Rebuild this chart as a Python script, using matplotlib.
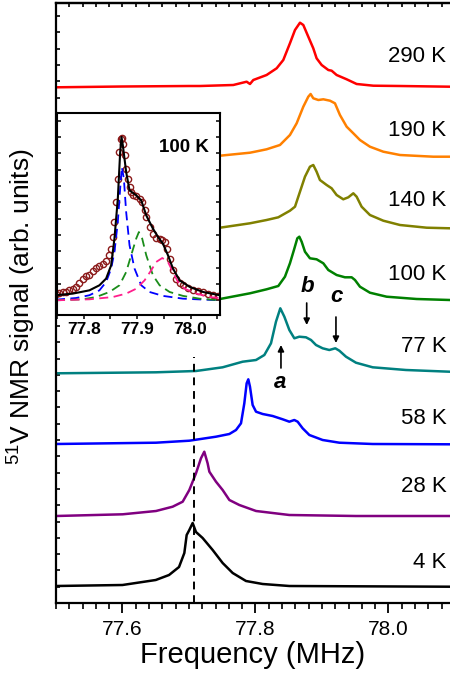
import matplotlib
matplotlib.use('Agg')
import matplotlib.pyplot as plt
from matplotlib.ticker import MultipleLocator

plt.rcParams['font.family'] = ['Liberation Sans', 'DejaVu Sans']
plt.rcParams['mathtext.fontset'] = 'custom'
plt.rcParams['mathtext.rm'] = 'Liberation Sans'
plt.rcParams['mathtext.it'] = 'Liberation Sans:italic'

# spectra: frequency (MHz), signal (arb. units, stacked)
f_4 = [77.5, 77.6, 77.65, 77.67, 77.685, 77.693, 77.6965, 77.7005, 77.7055, 77.7105, 77.7205,
       77.7356, 77.7506, 77.7657, 77.7857, 77.8108, 77.851, 77.951, 78.0915]
s_4 = [17, 18, 23, 28, 36, 50, 68, 73, 80, 71, 65, 53, 40, 30, 22, 19, 17, 16.7, 16.3]

f_28 = [77.5, 77.6003, 77.6504, 77.6754, 77.6905, 77.7005, 77.7105, 77.718, 77.723, 77.728,
        77.7306, 77.7406, 77.7506, 77.7607, 77.7757, 77.8008, 77.8509, 77.9511, 78.0915]
s_28 = [87, 88.7, 92, 96.3, 101.3, 113, 129.7, 144.7, 151.3, 139.7, 131.3, 121.3, 113, 103,
        98, 92, 88, 87, 87]

f_58 = [77.5, 77.6504, 77.7005, 77.7406, 77.7607, 77.7707, 77.7782, 77.7832, 77.7867, 77.7892,
        77.7917, 77.7957, 77.8008, 77.8108, 77.8258, 77.8409, 77.8509, 77.8584, 77.8634,
        77.8709, 77.881, 77.901, 77.9261, 77.9762, 78.0915]
s_58 = [159, 160.3, 162.3, 166.3, 169, 173, 179.7, 199.7, 219.7, 223.7, 216.3, 198, 191.3,
        189, 187, 183.7, 181.3, 183, 181.3, 174.7, 168, 163, 160.3, 159, 158.7]

f_77 = [77.5, 77.6504, 77.7105, 77.7506, 77.7807, 77.8008, 77.8133, 77.8233, 77.8308, 77.8373,
        77.8434, 77.8509, 77.8584, 77.8659, 77.8759, 77.8835, 77.891, 77.901, 77.911, 77.92,
        77.9261, 77.9361, 77.9511, 77.9762, 78.0263, 78.0915]
s_77 = [229.7, 230.7, 232, 235.7, 241.3, 243, 248, 259.7, 281.3, 294.7, 286.3, 273, 264.7,
        266.3, 265.7, 263, 258, 254.7, 253, 254.7, 252.3, 246.3, 240.3, 235.7, 233, 231.3]

f_100 = [77.5, 77.65, 77.7466, 77.7917, 77.8167, 77.8343, 77.8443, 77.8518, 77.8578, 77.8629,
         77.8659, 77.8694, 77.8744, 77.8819, 77.8919, 77.902, 77.9095, 77.922, 77.9345,
         77.9446, 77.9496, 77.9571, 77.9721, 77.9972, 78.0423, 78.0924]
s_100 = [302, 303, 304, 309.7, 313.7, 317, 326.3, 339.7, 353, 364.7, 366.3, 361.3, 351.3,
         344.7, 343.7, 339.7, 333, 328, 325.7, 325.7, 323, 316.3, 310.3, 306.3, 304, 303]

f_140 = [77.5, 77.65, 77.7466, 77.7917, 77.8167, 77.8343, 77.8518, 77.8594, 77.8669, 77.8744,
         77.8819, 77.8869, 77.8919, 77.8969, 77.907, 77.9145, 77.922, 77.932, 77.9396,
         77.9471, 77.9521, 77.9596, 77.9721, 77.9922, 78.0173, 78.0574, 78.0924]
s_140 = [371, 373, 375.3, 379.7, 383, 385.7, 392.3, 396.3, 411.3, 426.3, 436.3, 438, 431.3,
         423, 418, 414.7, 408, 403.7, 405.7, 409.7, 406.3, 396.3, 388, 382.3, 378, 375.3, 374.7]

f_190 = [77.5, 77.65, 77.7466, 77.7917, 77.7992, 77.8167, 77.8368, 77.8518, 77.8619, 77.8719,
         77.8794, 77.8829, 77.8869, 77.8945, 77.902, 77.912, 77.9195, 77.927, 77.9371,
         77.9471, 77.9571, 77.9721, 77.9922, 78.0173, 78.0674, 78.0924]
s_190 = [444, 446, 447.3, 450.3, 451.3, 453.7, 458, 468, 479.7, 496.3, 506.3, 509, 504.7, 503,
         503.7, 502.3, 499.7, 488, 476.3, 469.7, 463, 456.3, 451.3, 448, 446.3, 446.3]

f_290 = [77.5, 77.6, 77.7, 77.7165, 77.7666, 77.7867, 77.7917, 77.7967, 77.8167, 77.8318,
         77.8418, 77.8518, 77.8594, 77.8669, 77.8719, 77.8794, 77.8869, 77.8919, 77.8995,
         77.9095, 77.9145, 77.922, 77.9371, 77.9521, 77.9772, 78.0173, 78.0924]
s_290 = [515.7, 516.5, 517, 517, 518, 521.3, 519, 523, 528, 534.7, 543, 559.7, 573, 580.3, 578,
         566.3, 554.7, 544.7, 538, 533, 532.3, 528, 523.7, 519, 517.3, 517, 516.3]

temps = ['4 K', '28 K', '58 K', '77 K', '100 K', '140 K', '190 K', '290 K']
colors = ['black', '#800080', '#0000ff', '#008080', '#008000', '#808000', '#ff8000', '#ff0000']
label_y = [41, 116, 185, 256, 328, 403, 473, 546]

# inset: 100 K spectrum and its three-line fit (normalised)
fi_data = [77.7481, 77.7544, 77.7606, 77.7669, 77.7731, 77.7794, 77.7856, 77.7919, 77.7981,
           77.8044, 77.8106, 77.8169, 77.8231, 77.8294, 77.8357, 77.8419, 77.8482, 77.8513,
           77.8544, 77.8575, 77.8607, 77.8638, 77.8669, 77.8694, 77.8719, 77.8744, 77.8769,
           77.8794, 77.8826, 77.8857, 77.8888, 77.8919, 77.8982, 77.9044, 77.9094, 77.9138,
           77.917, 77.9232, 77.9295, 77.9357, 77.942, 77.947, 77.9514, 77.9557, 77.9607,
           77.967, 77.9732, 77.9795, 77.9857, 77.9951, 78.0045, 78.0139, 78.0233, 78.0327,
           78.042, 78.0514]
si_data = [0.041, 0.045, 0.049, 0.051, 0.061, 0.071, 0.082, 0.108, 0.133, 0.147, 0.157, 0.178,
           0.198, 0.210, 0.222, 0.241, 0.276, 0.316, 0.388, 0.480, 0.602, 0.745, 0.908, 0.990,
           0.994, 0.959, 0.888, 0.806, 0.745, 0.694, 0.663, 0.647, 0.639, 0.622, 0.602, 0.551,
           0.510, 0.449, 0.408, 0.382, 0.373, 0.371, 0.357, 0.316, 0.255, 0.184, 0.133, 0.108,
           0.092, 0.076, 0.065, 0.057, 0.049, 0.039, 0.031, 0.024]

fi_fit = [77.7481, 77.7794, 77.8106, 77.8294, 77.8419, 77.8513, 77.8575, 77.8638, 77.8682,
          77.8707, 77.8732, 77.8794, 77.8857, 77.8982, 77.9076, 77.917, 77.9295, 77.9389,
          77.9482, 77.9576, 77.967, 77.9795, 77.9983, 78.0233, 78.0545]
si_fit = [0.031, 0.041, 0.061, 0.092, 0.133, 0.214, 0.378, 0.622, 0.908, 1.0, 0.949, 0.786,
          0.673, 0.643, 0.612, 0.520, 0.439, 0.388, 0.347, 0.276, 0.194, 0.122, 0.082, 0.051,
          0.031]

fi_a = [77.7481, 77.7856, 77.8106, 77.8294, 77.8419, 77.8513, 77.8575, 77.8638, 77.8682,
        77.8713, 77.8751, 77.8794, 77.8857, 77.8951, 77.9076, 77.9232, 77.9482, 77.9857, 78.0545]
si_a = [0.004, 0.014, 0.031, 0.061, 0.112, 0.194, 0.296, 0.480, 0.684, 0.816, 0.745, 0.541,
        0.337, 0.194, 0.092, 0.051, 0.027, 0.010, 0.0]

fi_b = [77.7481, 77.7981, 77.8231, 77.8482, 77.8669, 77.8794, 77.8888, 77.8982, 77.9032,
        77.9094, 77.917, 77.9295, 77.942, 77.9607, 77.9857, 78.017, 78.0545]
si_b = [0.0, 0.006, 0.020, 0.051, 0.092, 0.173, 0.276, 0.378, 0.418, 0.378, 0.276, 0.153,
        0.092, 0.051, 0.027, 0.010, 0.0]

fi_c = [77.7481, 77.8106, 77.8544, 77.8794, 77.8982, 77.9138, 77.9263, 77.9357, 77.947,
        77.9576, 77.967, 77.9764, 77.9889, 78.0108, 78.0358, 78.0545]
si_c = [0.0, 0.006, 0.020, 0.041, 0.071, 0.122, 0.184, 0.235, 0.259, 0.235, 0.173, 0.112,
        0.071, 0.041, 0.020, 0.014]

fig = plt.figure(figsize=(4.5, 6.81), dpi=100)
ax = fig.add_axes([56 / 450, 1 - 603 / 681, 394 / 450, 600 / 681])

traces = [(f_4, s_4), (f_28, s_28), (f_58, s_58), (f_77, s_77),
          (f_100, s_100), (f_140, s_140), (f_190, s_190), (f_290, s_290)]
for (fx, sy), c, t, ly in zip(traces, colors, temps, label_y):
    ax.plot(fx, sy, color=c, lw=1.8, solid_joinstyle='round')
    ax.text(78.087, ly, t, ha='right', va='center', fontsize=16)

ax.plot([77.7075, 77.7075], [0, 246], color='black', ls=(0, (4, 3)), lw=1.4)

# peak markers a, b, c on the 77 K line
arr = dict(arrowstyle='-|>', color='black', lw=1.2, mutation_scale=9, shrinkA=0, shrinkB=0)
ax.annotate('', xy=(77.8383, 258), xytext=(77.8383, 235), arrowprops=arr)
ax.annotate('', xy=(77.877, 278), xytext=(77.877, 300), arrowprops=arr)
ax.annotate('', xy=(77.921, 260), xytext=(77.921, 286), arrowprops=arr)
ax.text(77.8368, 220, 'a', ha='center', va='center', fontsize=16, style='italic', weight='bold')
ax.text(77.8785, 316, 'b', ha='center', va='center', fontsize=16, style='italic', weight='bold')
ax.text(77.922, 306, 'c', ha='center', va='center', fontsize=16, style='italic', weight='bold')

ax.set_xlim(77.5, 78.0925)
ax.set_ylim(0, 600)
ax.xaxis.set_major_locator(MultipleLocator(0.2))
ax.xaxis.set_minor_locator(MultipleLocator(0.02))
ax.yaxis.set_major_locator(MultipleLocator(16.3))
ax.set_yticklabels([])
ax.tick_params(axis='x', which='major', direction='out', length=7, width=1.3, labelsize=15, pad=5)
ax.tick_params(axis='x', which='minor', direction='out', length=4, width=1.2)
ax.tick_params(axis='y', which='major', direction='in', length=3, width=1.2, left=True, right=False)
ax.spines['right'].set_visible(False)
for s in ['left', 'top', 'bottom']:
    ax.spines[s].set_linewidth(1.6)
top = ax.secondary_xaxis('top')
top.xaxis.set_major_locator(MultipleLocator(0.2))
top.xaxis.set_minor_locator(MultipleLocator(0.02))
top.tick_params(which='both', direction='in', length=3, width=1.2, labeltop=False)
top.spines['top'].set_linewidth(1.6)

ax.set_xlabel('Frequency (MHz)', fontsize=21, labelpad=2)
fig.text(22 / 450, 1 - 307 / 681, r'$^{51}$V NMR signal (arb. units)', rotation=90,
         ha='center', va='center', fontsize=19)

# inset
ins = fig.add_axes([57 / 450, 1 - 315 / 681, 163 / 450, 202 / 681])
ins.plot(fi_data, si_data, 'o', mfc='none', mec='#8b1a1a', ms=4.5, mew=1.0)
ins.plot(fi_a, si_a, color='#0000ff', ls=(0, (5, 3)), lw=1.3)
ins.plot(fi_b, si_b, color='#1a8c1a', ls=(0, (5, 3)), lw=1.3)
ins.plot(fi_c, si_c, color='#ff1e8c', ls=(0, (5, 3)), lw=1.3)
ins.plot(fi_fit, si_fit, color='black', lw=1.5)
ins.set_xlim(77.75, 78.055)
ins.set_ylim(-0.09, 1.147)
ins.xaxis.set_major_locator(MultipleLocator(0.1))
ins.xaxis.set_minor_locator(MultipleLocator(0.05))
ins.yaxis.set_major_locator(MultipleLocator(0.1))
ins.set_yticklabels([])
ins.tick_params(axis='x', which='both', direction='out', length=3, width=1.1, labelsize=12.5, pad=2)
ins.tick_params(axis='y', direction='in', length=3, width=1.1, left=True, right=True)
for s in ins.spines.values():
    s.set_linewidth(1.5)
for lbl in ins.get_xticklabels():
    lbl.set_weight('bold')
ins.text(0.93, 0.83, '100 K', transform=ins.transAxes, ha='right', va='center',
         fontsize=13.5, weight='bold')

fig.savefig('out.png', dpi=100)
